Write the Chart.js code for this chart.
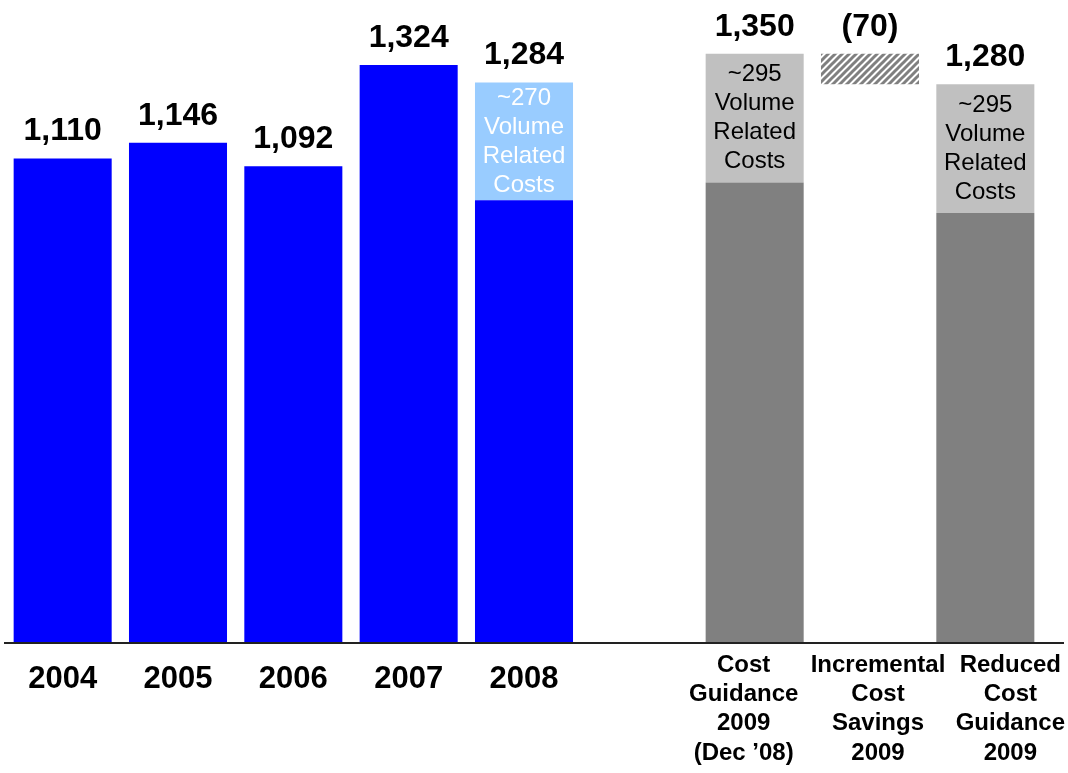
<!DOCTYPE html>
<html>
<head>
<meta charset="utf-8">
<script src="https://cdn.jsdelivr.net/npm/chart.js@4/dist/chart.umd.min.js"></script>
<style>
  body { margin: 0; background: #fff; }
  canvas { display: block; }
</style>
</head>
<body>
<canvas id="cost-chart" width="1068" height="773"></canvas>
<script>
// categories (blank slot separates history from 2009 guidance)
const categories = [
  "2004", "2005", "2006", "2007", "2008", "",
  ["Cost", "Guidance", "2009", "(Dec ’08)"],
  ["Incremental", "Cost", "Savings", "2009"],
  ["Reduced", "Cost", "Guidance", "2009"]
];
// base costs (without volume related part)
const baseCosts = [1110, 1146, 1092, 1324, 1014, null, 1055, null, 985];
// invisible offset so savings bar floats between 1,280 and 1,350
const savingsOffset = [null, null, null, null, null, null, null, 1280, null];
const volumeCosts = [null, null, null, null, 270, null, 295, null, 295];
const savings = [null, null, null, null, null, null, null, 70, null];
const totalLabels = ["1,110", "1,146", "1,092", "1,324", "1,284", "", "1,350", "(70)", "1,280"];
const volumeLabels = ["", "", "", "", "~270", "", "~295", "", "~295"];

const FONT = "Arial, 'Liberation Sans', sans-serif";

// hatch pattern for savings bar
const S = 7;
const tile = document.createElement("canvas");
tile.width = S; tile.height = S;
const tc = tile.getContext("2d");
tc.fillStyle = "#fff";
tc.fillRect(0, 0, S, S);
tc.strokeStyle = "#808080";
tc.lineWidth = 3;
tc.beginPath();
tc.moveTo(0, S); tc.lineTo(S, 0);
tc.moveTo(-2, 2); tc.lineTo(2, -2);
tc.moveTo(S - 2, S + 2); tc.lineTo(S + 2, S - 2);
tc.stroke();
const hatch = tc.createPattern(tile, "repeat");

const baseColors = categories.map((c, i) => (i < 5 ? "#0000ff" : "#808080"));
const volumeColors = categories.map((c, i) => (i < 5 ? "#99ccff" : "#c0c0c0"));

// the 2009 category labels sit a little off their bars in the original
const labelShift = { 6: -11, 7: 8, 8: 25 };

const labelsPlugin = {
  id: "labels",
  afterDatasetsDraw(chart) {
    const ctx = chart.ctx;
    const x = chart.scales.x;
    const y = chart.scales.y;
    const bottom = chart.chartArea.bottom;
    ctx.save();
    // baseline
    ctx.strokeStyle = "#222";
    ctx.lineWidth = 2;
    ctx.beginPath();
    ctx.moveTo(4, bottom);
    ctx.lineTo(1064, bottom);
    ctx.stroke();

    ctx.textAlign = "center";
    // totals above bars
    ctx.font = "bold 32px " + FONT;
    ctx.fillStyle = "#000";
    ctx.textBaseline = "alphabetic";
    categories.forEach((c, i) => {
      if (!totalLabels[i]) return;
      const total = (baseCosts[i] || 0) + (savingsOffset[i] || 0) + (volumeCosts[i] || 0) + (savings[i] || 0);
      ctx.fillText(totalLabels[i], x.getPixelForValue(i), y.getPixelForValue(total) - 18);
    });

    // multi-line 2009 category labels
    ctx.font = "bold 24px " + FONT;
    ctx.textBaseline = "middle";
    categories.forEach((c, i) => {
      if (!Array.isArray(c)) return;
      const cx = x.getPixelForValue(i) + (labelShift[i] || 0);
      c.forEach((t, k) => ctx.fillText(t, cx, bottom + 22 + k * 29.3));
    });

    // volume related labels inside segments
    const meta = chart.getDatasetMeta(2);
    ctx.font = "24px " + FONT;
    volumeLabels.forEach((lab, i) => {
      if (!lab) return;
      const el = meta.data[i];
      const mid = (el.y + el.base) / 2;
      const lines = [lab, "Volume", "Related", "Costs"];
      ctx.fillStyle = i < 5 ? "#fff" : "#000";
      lines.forEach((t, k) => {
        ctx.fillText(t, el.x, mid + (k - 1.5) * 29);
      });
    });
    ctx.restore();
  }
};

new Chart(document.getElementById("cost-chart"), {
  type: "bar",
  data: {
    labels: categories,
    datasets: [
      { data: baseCosts, backgroundColor: baseColors },
      { data: savingsOffset, backgroundColor: "rgba(0,0,0,0)" },
      { data: volumeCosts, backgroundColor: volumeColors },
      { data: savings, backgroundColor: hatch }
    ]
  },
  options: {
    responsive: false,
    animation: false,
    layout: { padding: { left: 5, right: 25, top: 10, bottom: 0 } },
    datasets: { bar: { barPercentage: 1, categoryPercentage: 0.85 } },
    plugins: { legend: { display: false }, tooltip: { enabled: false } },
    scales: {
      x: {
        stacked: true,
        grid: { display: false },
        border: { display: false },
        afterFit(scale) { scale.height = 130; },
        ticks: {
          autoSkip: false,
          maxRotation: 0,
          minRotation: 0,
          padding: 1,
          color: "#000",
          // years as ticks; the multi-line labels are drawn by the plugin
          callback: (v, i) => (Array.isArray(categories[i]) ? "" : categories[i]),
          font: { family: FONT, size: 31, weight: "bold", lineHeight: 1.8 }
        }
      },
      y: {
        stacked: true,
        display: false,
        min: 0,
        max: 1450
      }
    }
  },
  plugins: [labelsPlugin]
});
</script>
</body>
</html>
